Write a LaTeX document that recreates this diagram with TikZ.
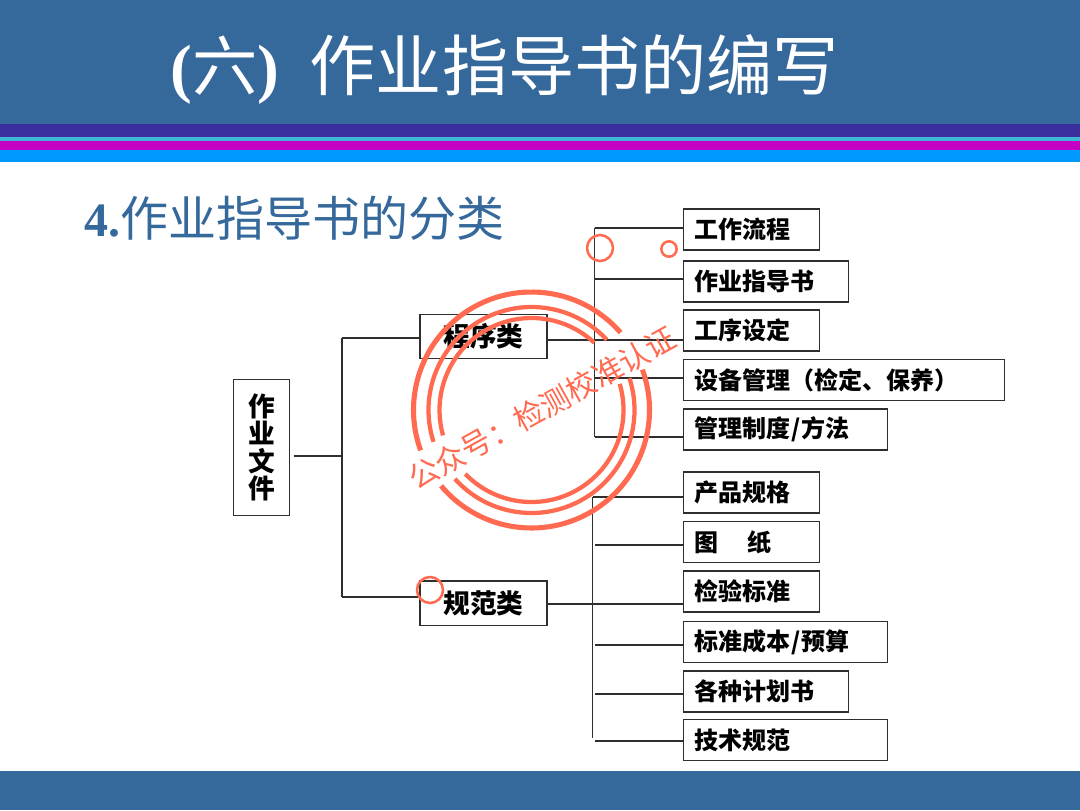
\documentclass[tikz,border=0pt]{standalone}
\usepackage{fontspec}
\setmainfont{Noto Sans CJK SC}
\newfontfamily\serifbold[BoldFont=Liberation Serif Bold]{Liberation Serif}
\definecolor{bandblue}{HTML}{35689B}
\definecolor{bandpurple}{HTML}{3A2F9C}
\definecolor{bandcyan}{HTML}{3FB5D5}
\definecolor{bandmag}{HTML}{C400C4}
\definecolor{bandsky}{HTML}{0099FF}
\definecolor{stampc}{HTML}{FF6A50}
\definecolor{linec}{HTML}{2E2E2E}
\tikzset{
  x=0.75pt,y=-0.75pt,
  boxline/.style={draw=linec,line width=1pt},
  leaf/.style={boxline,anchor=west,inner xsep=8.25pt,inner ysep=0pt,text width=#1pt-16.5pt,minimum height=30.75pt,align=left,font=\bfseries\fontsize{18pt}{20pt}\selectfont,text=black},
  midbox/.style={boxline,minimum width=95.25pt,minimum height=33.25pt,inner sep=0pt,font=\bfseries\fontsize{20pt}{22pt}\selectfont,text=black},
  link/.style={draw=linec,line width=0.9pt},
  ring/.style={draw=stampc,line width=#1pt,line cap=butt},
  dotring/.style={draw=stampc,line width=1.9pt,circle,minimum size=#1pt,inner sep=0pt},
}
\begin{document}
\begin{tikzpicture}
\useasboundingbox (0,0) rectangle (1080,810);
\fill[white] (0,0) rectangle (1080,810);
\fill[bandblue] (0,0) rectangle (1080,124);
\fill[bandpurple] (0,124) rectangle (1080,137);
\fill[bandcyan] (0,137) rectangle (1080,141);
\fill[bandmag] (0,141) rectangle (1080,150);
\fill[bandsky] (0,150) rectangle (1080,162);
\fill[bandblue] (0,771) rectangle (1080,810);

\node[anchor=base west,inner sep=0pt,text=white,font=\fontsize{49pt}{52pt}\selectfont] (title) at (170,90)
  {{\serifbold\bfseries(}六{\serifbold\bfseries)}\hspace{0.47em}{\fontsize{49.6pt}{52pt}\selectfont 作业指导书的编写}};
\node[anchor=base west,inner sep=0pt,text=bandblue,font=\fontsize{36pt}{40pt}\selectfont] (sub) at (84,236)
  {{\serifbold\bfseries 4.}作业指导书的分类};

\node[boxline,minimum width=42pt,minimum height=102.4pt,inner sep=0pt,align=center,font=\bfseries\fontsize{20pt}{20.6pt}\selectfont,text=black] (root) at (261.5,447.5) {作\\业\\文\\件};
\node[midbox] (cheng) at (483.5,336.5) {\raisebox{-1pt}{程序类}};
\node[midbox] (gui) at (483.5,603) {规范类};

\node[leaf=102] (a1) at (683,229.5) {工作流程};
\node[leaf=123.75] (a2) at (683,281.5) {作业指导书};
\node[leaf=102] (a3) at (683,330.5) {工序设定};
\node[leaf=240.75] (a4) at (683,380) {设备管理（检定、保养）};
\node[leaf=153] (a5) at (683,429.5) {管理制度\kern0.7pt/\kern0.7pt 方法};
\node[leaf=102] (b1) at (683,492.5) {产品规格};
\node[leaf=102] (b2) at (683,542) {图\hspace{1.2em}纸};
\node[leaf=102] (b3) at (683,591.5) {检验标准};
\node[leaf=153] (b4) at (683,642) {标准成本\kern0.7pt/\kern0.7pt 预算};
\node[leaf=123.75] (b5) at (683,691.5) {各种计划书};
\node[leaf=153] (b6) at (683,740) {技术规范};

\coordinate (j0) at (342,456);
\coordinate (jt) at (342,338);
\coordinate (jb) at (342,597);
\coordinate (at) at (594.5,228);
\coordinate (ab) at (594.5,437);
\coordinate (bt) at (592.5,497);
\coordinate (bb) at (592.5,738);
\coordinate (bj) at (595,0);

\draw[link] (root.east |- j0) ++(3.5,0) -- (j0);
\draw[link] (jt) -- (jb);
\draw[link] (jt) -- (jt -| cheng.west);
\draw[link] (jb) -- (jb -| gui.west);
\draw[link] (at) -- (ab);
\draw[link] (bt) -- (bb);
\draw[link] (at) -- (at -| a1.west);
\draw[link] (at |- 0,279) -- (a2.west |- 0,279);
\draw[link] (cheng.east |- 0,340) -- (a3.west |- 0,340);
\draw[link] (at |- 0,378) -- (a4.west |- 0,378);
\draw[link] (ab) -- (ab -| a5.west);
\draw[link] (bt) -- (bt -| b1.west);
\draw[link] (bj |- 0,545) -- (b2.west |- 0,545);
\draw[link] (gui.east |- 0,604) -- (b3.west |- 0,604);
\draw[link] (bj |- 0,645) -- (b4.west |- 0,645);
\draw[link] (bj |- 0,694) -- (b5.west |- 0,694);
\draw[link] (bj |- 0,741) -- (b6.west |- 0,741);

% stamp: y is flipped, so angles run negative to stay counter-clockwise on the page
\coordinate (sc) at (531.5,410);
\foreach \r/\w/\aa/\ab/\ac/\ad in {118/3.8/41/200/220/380, 103/3.2/43/198/222/378, 92/3.2/47/196/224/376.5}{
  \draw[ring=\w] (sc) ++(-\aa:\r) arc[start angle=-\aa,end angle=-\ab,radius=\r];
  \draw[ring=\w] (sc) ++(-\ac:\r) arc[start angle=-\ac,end angle=-\ad,radius=\r];
}
\node[text=stampc,inner sep=0pt,rotate=29,font=\fontsize{22.5pt}{24pt}\selectfont] (stamptext) at (542,408) {公众号：检测校准认证};
\node[dotring=19.5] (c1) at (600,248) {};
\node[dotring=11.5] (c2) at (669,249) {};
\node[dotring=19.5] (c3) at (430,590) {};
\end{tikzpicture}
\end{document}
